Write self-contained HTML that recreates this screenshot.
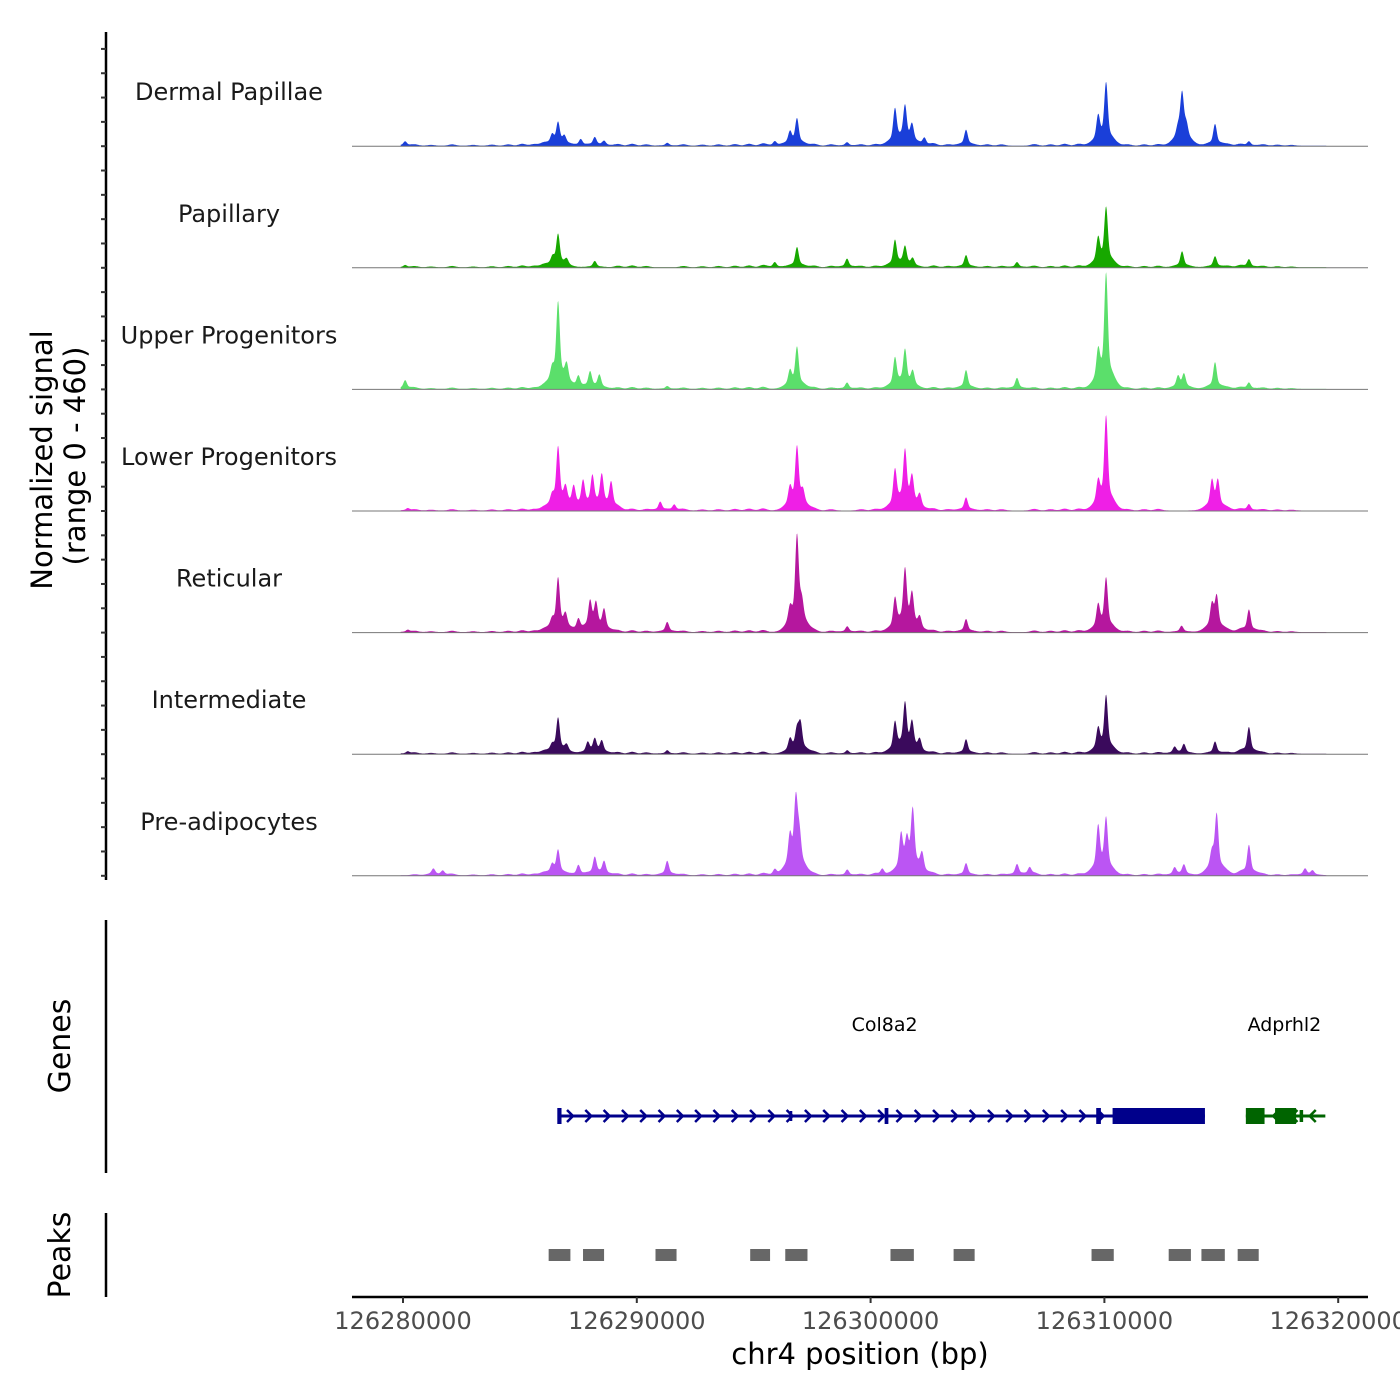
<!DOCTYPE html>
<html><head><meta charset="utf-8">
<style>
html,body{margin:0;padding:0;background:#fff;}
svg{display:block;font-family:"DejaVu Sans","Liberation Sans",sans-serif;}
</style></head>
<body>
<svg id="chart" width="1400" height="1400" viewBox="0 0 1400 1400" xmlns="http://www.w3.org/2000/svg">
<rect width="1400" height="1400" fill="#fff"/>
<text x="0" y="0" transform="translate(52,460) rotate(-90)" text-anchor="middle" font-size="29" fill="#000">Normalized signal</text>
<text x="0" y="0" transform="translate(85,456) rotate(-90)" text-anchor="middle" font-size="29" fill="#000">(range 0 - 460)</text>
<text x="0" y="0" transform="translate(70,1046) rotate(-90)" text-anchor="middle" font-size="30" fill="#000">Genes</text>
<text x="0" y="0" transform="translate(70,1255) rotate(-90)" text-anchor="middle" font-size="30" fill="#000">Peaks</text>
<text x="860" y="1364" text-anchor="middle" font-size="29" fill="#000">chr4 position (bp)</text>
<g id="g"></g>
</svg>
<script>
// ---- data ----
const tickValues = [126280000,126290000,126300000,126310000,126320000];
const tickLabels = ["126280000","126290000","126300000","126310000","126320000"];
const trackNames = ["Dermal Papillae","Papillary","Upper Progenitors","Lower Progenitors","Reticular","Intermediate","Pre-adipocytes"];
const trackColors = ["#1a3fd9","#17a800","#5bdf6b","#ef1fe6","#b5179e","#3a0a5c","#bb55f3"];
const dpPos = [0.09,6.38,6.63,6.9,7.6,8.2,8.6,11.3,15.9,16.55,16.85,18.99,21.04,21.47,21.77,22.3,24.08,29.73,30.07,33.15,33.32,33.5,34.73,36.18];
const dpVal = [15,30,75,25,22,28,15,10,15,40,90,12,120,125,60,25,55,85,210,40,170,50,75,15];
const paPos = [0.09,6.4,6.63,7.0,8.2,15.9,16.85,18.99,21.04,21.47,21.8,24.08,26.26,29.73,30.07,33.32,34.73,36.18];
const paVal = [8,25,110,20,22,18,70,30,90,65,25,42,18,85,200,55,38,28];
const upPos = [0.09,6.38,6.63,7.0,7.5,8.0,8.4,11.3,16.55,16.85,18.99,21.04,21.47,21.8,24.08,26.26,29.73,30.07,33.15,33.4,34.73,36.18];
const upVal = [30,40,290,60,40,55,45,10,50,140,22,100,125,50,65,38,100,390,40,48,92,22];
const lpPos = [0.2,6.38,6.63,6.95,7.3,7.7,8.1,8.5,8.9,11.0,11.6,16.55,16.85,17.1,21.04,21.47,21.77,22.1,24.08,29.73,30.07,34.6,34.85,36.18];
const lpVal = [8,30,210,55,70,90,105,110,90,30,20,60,210,45,130,190,95,45,45,75,320,95,95,22];
const rePos = [0.2,6.38,6.63,6.95,7.5,8.0,8.25,8.6,11.3,16.55,16.85,17.05,19.0,21.04,21.47,21.77,22.1,24.08,29.73,30.07,33.3,34.6,34.8,36.18];
const reVal = [8,25,180,45,40,95,85,70,35,50,320,70,20,105,200,110,40,45,80,180,22,85,115,78];
const inPos = [0.2,6.38,6.63,7.0,7.9,8.2,8.5,11.3,16.55,16.85,17.0,19.0,21.04,21.47,21.77,22.1,24.08,29.73,30.07,33.0,33.4,34.73,36.18];
const inVal = [8,20,120,22,35,45,40,12,40,70,95,12,100,160,90,40,50,72,195,22,32,42,92];
const paPosAd = [1.3,1.7,6.38,6.63,7.5,8.2,8.6,11.3,15.9,16.55,16.8,16.95,19.0,20.5,21.3,21.55,21.8,22.2,24.08,26.26,26.8,29.73,30.07,33.0,33.4,34.6,34.8,36.18,38.58,38.9];
const paValAd = [20,15,30,85,35,60,45,50,20,105,240,110,20,22,125,90,210,62,42,38,25,155,185,25,36,58,205,105,22,15];
const peakStarts = [126286230,126287700,126290800,126294850,126296350,126300850,126303550,126309450,126312750,126314150,126315700];
const peakEnds   = [126287160,126288600,126291700,126295700,126297300,126301850,126304450,126310400,126313700,126315150,126316600];
const geneNames = ["Col8a2","Adprhl2"];
const geneStarts = [126286630,126316050];
const geneEnds = [126314300,126319450];
const geneLabelPos = [126300600,126317700];
const geneColors = ["#00008b","#006400"];
const exonStarts = [126286600,126296550,126300600,126309650,126310350,126316050,126317300,126318350];
const exonEnds   = [126286780,126296650,126300760,126309850,126314300,126316850,126318200,126318500];
const exonHeights= [16,10,16,16,16,16,16,12];
const exonColors = ["#00008b","#00008b","#00008b","#00008b","#00008b","#006400","#006400","#006400"];
const trackSeries = [[dpPos,dpVal],[paPos,paVal],[upPos,upVal],[lpPos,lpVal],[rePos,reVal],[inPos,inVal],[paPosAd,paValAd]];
const bgPos = [0.5,1.2,2.1,3.0,3.8,4.5,5.1,5.6,6.0,9.2,9.8,10.4,12.0,12.8,13.5,14.2,14.8,15.4,17.6,18.3,19.6,20.2,22.7,23.3,25.0,25.6,27.0,27.7,28.3,28.9,31.0,31.7,32.3,35.3,35.8,36.8,37.4,38.0];
const bgVal = [4,3,5,3,4,5,7,6,8,6,7,5,5,4,5,6,7,8,6,5,5,6,7,5,5,5,6,5,7,7,5,5,6,5,6,5,4,3];

// ---- scales ----
const X0=403, PXPERBP=233.8/10000;
function xs(bp){return X0+(bp-126280000)*PXPERBP;}
const TRACK_H=121.6, BASE0=146.2;
function ys(v){return v/460*TRACK_H;}
const NS="http://www.w3.org/2000/svg";
const g=document.getElementById('g');
function mk(tag,attrs,parent){const e=document.createElementNS(NS,tag);for(const k in attrs)e.setAttribute(k,attrs[k]);(parent||g).appendChild(e);return e;}

const ax=mk('line',{x1:106,y1:32,x2:106,y2:880,stroke:'#000','stroke-width':2.5});


for(let t=0;t<7;t++){
  const base=BASE0+t*TRACK_H;
  for(let k=0;k<5;k++){
    const tk=mk('line',{x1:101,y1:base-k*TRACK_H/5,x2:106,y2:base-k*TRACK_H/5,stroke:'#333','stroke-width':2});
    
    
  }
}
for(let t=0;t<7;t++){
  const base=BASE0+t*TRACK_H;
  const pos=trackSeries[t][0], val=trackSeries[t][1];
  let d='M'+xs(126279900)+','+base;
  for(let px=xs(126279900);px<=xs(126319500);px+=0.5){
    const kb=(px-X0)/PXPERBP/1000;
    let v=0;
    for(let i=0;i<pos.length;i++){
      const dd=kb-pos[i];
      v+=val[i]*0.85*Math.exp(-dd*dd/(2*0.07*0.07));
      v+=val[i]*0.25*Math.exp(-dd*dd/(2*0.3*0.3));
    }
    for(let i=0;i<bgPos.length;i++){
      const dd=kb-bgPos[i];
      v+=bgVal[i]*Math.exp(-dd*dd/(2*0.15*0.15));
    }
    v+=2;
    d+=' L'+px.toFixed(1)+','+(base-ys(v)).toFixed(1);
  }
  d+=' L'+xs(126319500)+','+base+' Z';
  const p=mk('path',{d:d,fill:trackColors[t],stroke:'none'});
  
  
  const bl=mk('line',{x1:352,y1:base,x2:1368,y2:base,stroke:'#777','stroke-width':1});
  
  
  const lb=mk('text',{x:229,y:base-46,'text-anchor':'middle','font-size':24,fill:'#1a1a1a'});
  lb.textContent=trackNames[t];
  
  
}
const gax=mk('line',{x1:106,y1:920,x2:106,y2:1173,stroke:'#000','stroke-width':2.5});


const pax=mk('line',{x1:106,y1:1213,x2:106,y2:1297,stroke:'#000','stroke-width':2.5});


const GY=1116;
for(let i=0;i<geneNames.length;i++){
  const x1=xs(geneStarts[i]),x2=xs(geneEnds[i]);
  const ln=mk('line',{x1:x1,y1:GY,x2:x2,y2:GY,stroke:geneColors[i],'stroke-width':3});
  
  
  const dir=i===0?1:-1;
  for(let x=x1+12;x<x2-6;x+=18.3){
    const ch=mk('polyline',{points:(x-3*dir)+','+(GY-6)+' '+(x+3*dir)+','+GY+' '+(x-3*dir)+','+(GY+6),fill:'none',stroke:geneColors[i],'stroke-width':2.5});
    
    
  }
  const lab=mk('text',{x:xs(geneLabelPos[i]),y:1031,'text-anchor':'middle','font-size':19,fill:'#000'});
  lab.textContent=geneNames[i];
  
  
}
for(let i=0;i<exonStarts.length;i++){
  const x1=xs(exonStarts[i]),x2=xs(exonEnds[i]);
  const r=mk('rect',{x:x1,y:GY-exonHeights[i]/2,width:Math.max(2,x2-x1),height:exonHeights[i],fill:exonColors[i]});
  
  
}
for(let i=0;i<peakStarts.length;i++){
  const r=mk('rect',{x:xs(peakStarts[i]),y:1249,width:xs(peakEnds[i])-xs(peakStarts[i]),height:12,fill:'#676767'});
  
  
}
const xa=mk('line',{x1:352,y1:1297,x2:1368,y2:1297,stroke:'#000','stroke-width':2.5});


for(let i=0;i<tickValues.length;i++){
  const x=xs(tickValues[i]);
  const tk=mk('line',{x1:x,y1:1297,x2:x,y2:1303,stroke:'#333','stroke-width':2});
  
  
  const tl=mk('text',{x:x,y:1329,'text-anchor':'middle','font-size':24,fill:'#4d4d4d'});
  tl.textContent=tickLabels[i];
  
  
}
</script>
</body></html>
